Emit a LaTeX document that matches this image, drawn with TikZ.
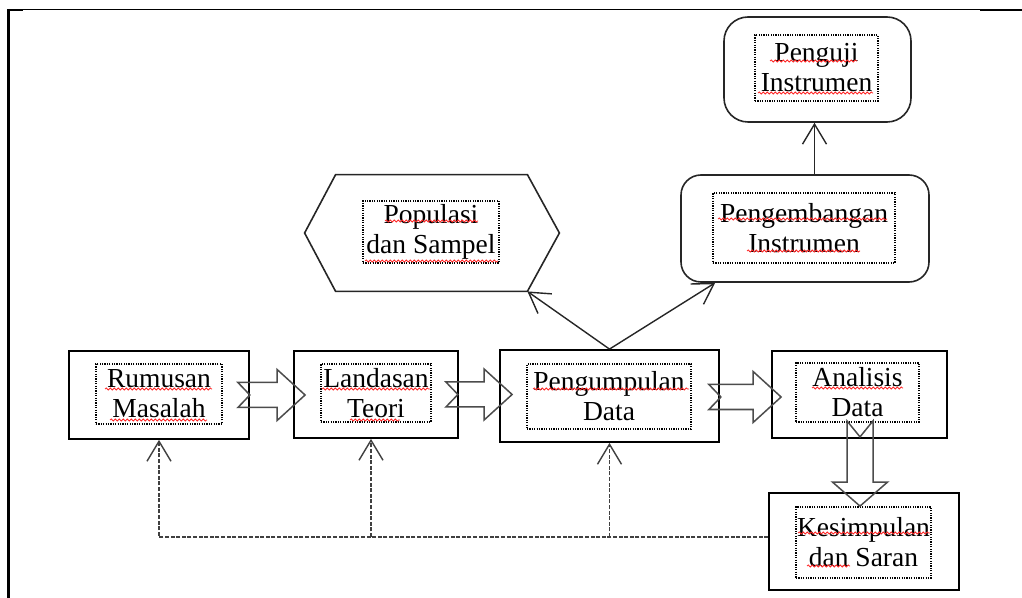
\documentclass[tikz,border=0pt]{standalone}
\usepackage{fontspec}
\setmainfont{Liberation Serif}
\usetikzlibrary{arrows.meta,calc,decorations.pathmorphing}
\newcommand\harrow[2]{\draw[barrow] let \p1=(#1), \p2=(#2) in
  (\x1,\y1+6.25pt) -- (\x2-14pt,\y1+6.25pt) -- (\x2-14pt,\y1+12.75pt) -- (\x2,\y1)
  -- (\x2-14pt,\y1-12.75pt) -- (\x2-14pt,\y1-6.25pt) -- (\x1,\y1-6.25pt) -- (\x1+6pt,\y1) -- cycle;}
\newcommand\varrow[2]{\draw[barrow] let \p1=(#1), \p2=(#2) in
  (\x1-6.5pt,\y1) -- (\x1-6.5pt,\y2+12pt) -- (\x1-13.75pt,\y2+12pt) -- (\x1,\y2)
  -- (\x1+13.75pt,\y2+12pt) -- (\x1+6.5pt,\y2+12pt) -- (\x1+6.5pt,\y1) -- (\x1,\y1-8pt) -- cycle;}
\newcommand\sq[3]{\draw[squig] (#1,#3) -- (#2,#3);}
\begin{document}
\begin{tikzpicture}[x=0.5pt,y=-0.5pt,
  box/.style={draw=black, line width=0.9pt, inner sep=0pt},
  rbox/.style={draw=black!85, line width=0.8pt, inner sep=0pt, rounded corners=10pt},
  hexline/.style={draw=black!85, line width=0.8pt, line join=miter},
  tbox/.style={draw=black, line width=0.6pt, dash pattern=on 0.6pt off 0.6pt, inner sep=0pt,
    align=center, font=\fontsize{13.75}{15}\selectfont},
  conn/.style={draw=black!85, line width=0.7pt, -{Straight Barb[length=10pt,width=12pt]}},
  dconn/.style={conn, draw=black!75, dash pattern=on 2pt off 0.8pt},
  barrow/.style={draw=black!70, line width=0.75pt, line join=miter},
  squig/.style={draw=red!85, line width=0.4pt, decorate,
    decoration={snake, segment length=2pt, amplitude=0.5pt}}]
\useasboundingbox (0,0) rectangle (1022,598);
% frame
\draw[line width=0.6pt] (8,9.5) -- (1022,9.5);
\draw[line width=1.2pt] (8.5,9) -- (8.5,598);
\draw[line width=1pt] (8,10.5) -- (23,10.5);
\draw[line width=1pt] (980,10) -- (1022,10);
% main boxes
\node[box, minimum width=90pt, minimum height=44pt] (rum) at (159,395) {};
\node[tbox, minimum width=63pt, minimum height=30pt] (rumt) at (159,394) {Rumusan\\Masalah};
\node[box, minimum width=82pt, minimum height=43.5pt] (lan) at (376,394.5) {};
\node[tbox, minimum width=55pt, minimum height=29pt] (lant) at (376,393) {Landasan\\Teori};
\node[box, minimum width=109.5pt, minimum height=46pt] (pen) at (609.5,396) {};
\node[tbox, minimum width=82pt, minimum height=32.5pt] (pent) at (609,396.5) {Pengumpulan\\Data};
\node[box, minimum width=87.5pt, minimum height=43.5pt] (ana) at (859.5,394.5) {};
\node[tbox, minimum width=61.5pt, minimum height=29.5pt] (anat) at (857.5,392.5) {Analisis\\Data};
\node[box, minimum width=95pt, minimum height=48.5pt] (kes) at (864,541.5) {};
\node[tbox, minimum width=67.5pt, minimum height=35.5pt] (kest) at (863.5,542.5) {Kesimpulan\\dan Saran};
% upper shapes
\node[inner sep=0pt, minimum width=127pt, minimum height=58pt] (pop) at (432,233) {};
\draw[hexline] (pop.west) -- ($(pop.north west)+(31,0)$) -- ($(pop.north east)+(-32,0)$) -- (pop.east)
  -- ($(pop.south east)+(-32,0)$) -- ($(pop.south west)+(31,0)$) -- cycle;
\node[tbox, minimum width=68pt, minimum height=31pt] (popt) at (431,232) {Populasi\\dan Sampel};
\node[rbox, minimum width=124pt, minimum height=53.5pt] (peng) at (805,228.5) {};
\node[tbox, minimum width=91pt, minimum height=35pt] (pengt) at (804,228) {Pengembangan\\Instrumen};
\node[rbox, minimum width=93.5pt, minimum height=52.5pt, rounded corners=12pt] (pj) at (817.5,69.5) {};
\node[tbox, minimum width=61.5pt, minimum height=33pt] (pjt) at (816.5,68) {Penguji\\Instrumen};
% spell-check squiggles
\sq{105}{212}{389}
\sq{110}{207}{420}
\sq{322}{430}{389}
\sq{350}{400}{420}
\sq{533}{689}{389}
\sq{812}{903}{388}
\sq{798}{930}{533}
\sq{807}{850}{566}
\sq{385}{478}{221}
\sq{365}{498}{261}
\sq{718}{887}{219}
\sq{747}{860}{251}
\sq{770}{857}{61}
\sq{758}{873}{93}
% block arrows
\harrow{$(rum.east)+(-12,0)$}{$(lan.west)+(12,0)$}
\harrow{$(lan.east)+(-13,0)$}{$(pen.west)+(13,0)$}
\harrow{$(pen.east)+(-11,1)$}{$(ana.west)+(10,1)$}
\varrow{$(ana.south)+(0.5,-18)$}{$(ana.south |- kes.north)+(0.5,14)$}
% connectors
\draw[conn] ($(pj.south |- peng.north)+(-3,0)$) -- ($(pj.south)+(-3,0)$);
\draw[conn] (pen.north) -- ($(pop.south east)+(-32,0)$);
\draw[conn] (pen.north) -- ($(peng.south west)+(35,0)$);
% feedback dashed
\coordinate (fb) at ($(kes.west)+(0,-4.5)$);
\draw[dconn] (fb) -| (rum.south);
\draw[dconn] ($(lan.south |- fb)+(-5,0)$) -- ($(lan.south)+(-5,0)$);
\draw[dconn] (pen.south |- fb) -- (pen.south);
\end{tikzpicture}
\end{document}
